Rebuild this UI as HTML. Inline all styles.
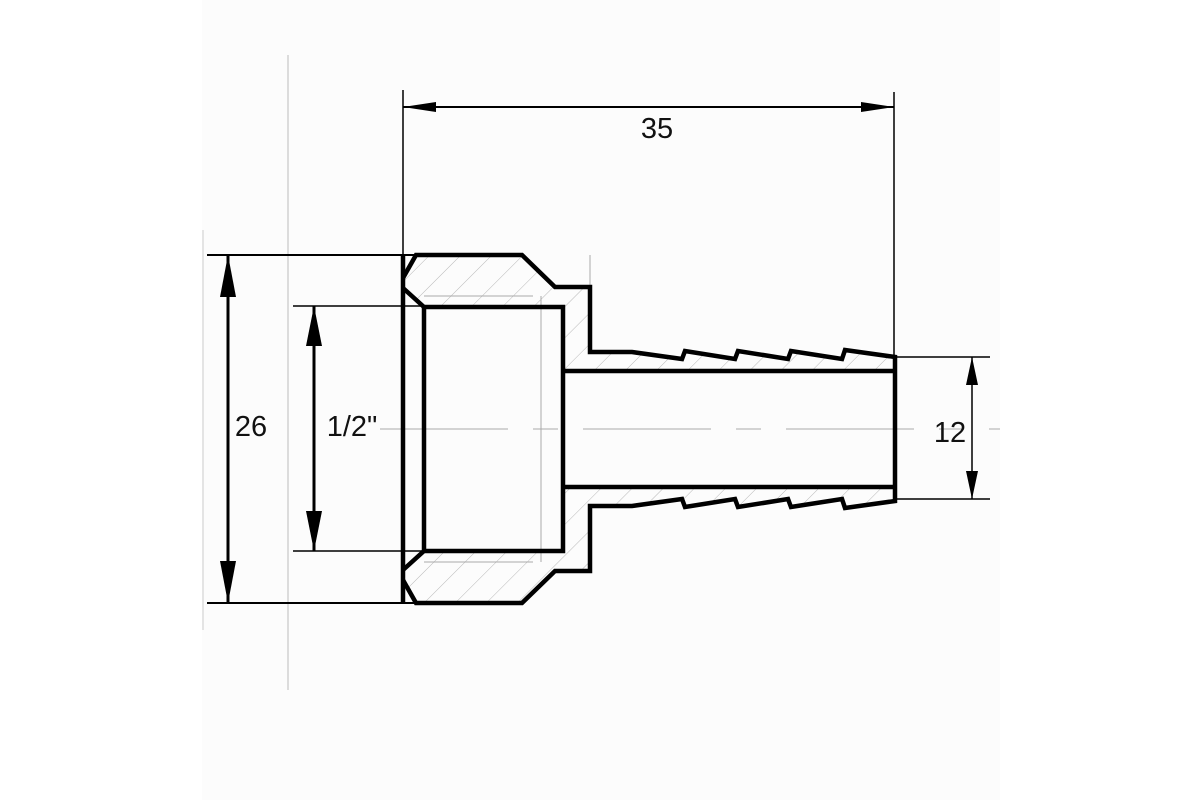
<!DOCTYPE html>
<html><head><meta charset="utf-8"><style>
html,body{margin:0;padding:0;background:#fff;}
svg{display:block;}
text{font-family:"Liberation Sans",sans-serif;font-size:29px;fill:#111;}
</style></head><body>
<svg width="1200" height="800" viewBox="0 0 1200 800" xmlns="http://www.w3.org/2000/svg">
<defs>
<pattern id="h" patternUnits="userSpaceOnUse" width="22" height="22" patternTransform="rotate(45)">
<line x1="0" y1="0" x2="0" y2="22" stroke="#b8b8b8" stroke-width="1"/>
</pattern>
</defs>
<rect x="0" y="0" width="1200" height="800" fill="#fff"/>
<rect x="202" y="0" width="798" height="800" fill="#fcfcfc"/>
<line x1="203" y1="230" x2="203" y2="630" stroke="#ccc" stroke-width="1"/>
<line x1="288" y1="55" x2="288" y2="690" stroke="#bbb" stroke-width="1"/>

<g fill="url(#h)" stroke="none">
<polygon points="416,255 522,255 555,287 590,287 590,352 632,352 682,359 685,351 735,359 738,351 788,359 791,351 842,359 845,350 895,357 895,371 563,371 563,307 424,307 403,288 403,278"/>
<polygon points="416,603 522,603 555,571 590,571 590,506 632,506 682,499 685,507 735,499 738,507 788,499 791,507 842,499 845,508 895,501 895,487 563,487 563,551 424,551 403,570 403,580"/>
</g>

<g stroke="#aaa" stroke-width="1" fill="none">
<line x1="424" y1="296" x2="533" y2="296"/>
<line x1="424" y1="562" x2="533" y2="562"/>
<line x1="541" y1="296" x2="541" y2="562"/>
<line x1="590" y1="255" x2="590" y2="287"/>
<line x1="380" y1="429" x2="1000" y2="429" stroke-dasharray="128,25,25,25"/>
</g>

<g stroke="#000" stroke-width="4.5" fill="none" stroke-linejoin="miter">
<polyline points="403,278 416,255 522,255 555,287 590,287 590,352 632,352 682,359 685,351 735,359 738,351 788,359 791,351 842,359 845,350 895,357 895,501 845,508 842,499 791,507 788,499 738,507 735,499 685,507 682,499 632,506 590,506 590,571 555,571 522,603 416,603 403,580"/>
<polyline points="403,288 424,307 563,307 563,551 424,551 403,570"/>
<line x1="424" y1="307" x2="424" y2="551"/>
<line x1="563" y1="371" x2="895" y2="371"/>
<line x1="563" y1="487" x2="895" y2="487"/>
<line x1="403" y1="255" x2="403" y2="603"/>
</g>

<g stroke="#000" stroke-width="2" fill="none">
<line x1="403" y1="90" x2="403" y2="255" stroke-width="1.5"/>
<line x1="894" y1="92" x2="894" y2="357" stroke-width="1.5"/>
<line x1="403" y1="107" x2="894" y2="107"/>
<line x1="207" y1="255" x2="416" y2="255"/>
<line x1="207" y1="603" x2="416" y2="603"/>
<line x1="228" y1="255" x2="228" y2="603" stroke-width="3"/>
<line x1="293" y1="306" x2="424" y2="306" stroke-width="1.5"/>
<line x1="293" y1="551" x2="424" y2="551" stroke-width="1.5"/>
<line x1="314" y1="306" x2="314" y2="551" stroke-width="3"/>
<line x1="895" y1="357" x2="990" y2="357" stroke-width="1.5"/>
<line x1="895" y1="499" x2="990" y2="499" stroke-width="1.5"/>
<line x1="972" y1="357" x2="972" y2="499" stroke-width="1.5"/>
</g>
<g fill="#000">
<polygon points="403,107 436,102 436,112"/>
<polygon points="894,107 861,102 861,112"/>
<polygon points="228,255 220,297 236,297"/>
<polygon points="228,603 220,561 236,561"/>
<polygon points="314,306 306,346 322,346"/>
<polygon points="314,551 306,511 322,511"/>
<polygon points="972,357 966,385 978,385"/>
<polygon points="972,499 966,471 978,471"/>
</g>

<text x="657" y="138" text-anchor="middle">35</text>
<text x="251" y="436" text-anchor="middle">26</text>
<text x="352" y="436" text-anchor="middle">1/2"</text>
<text x="950" y="442" text-anchor="middle">12</text>
</svg>
</body></html>
